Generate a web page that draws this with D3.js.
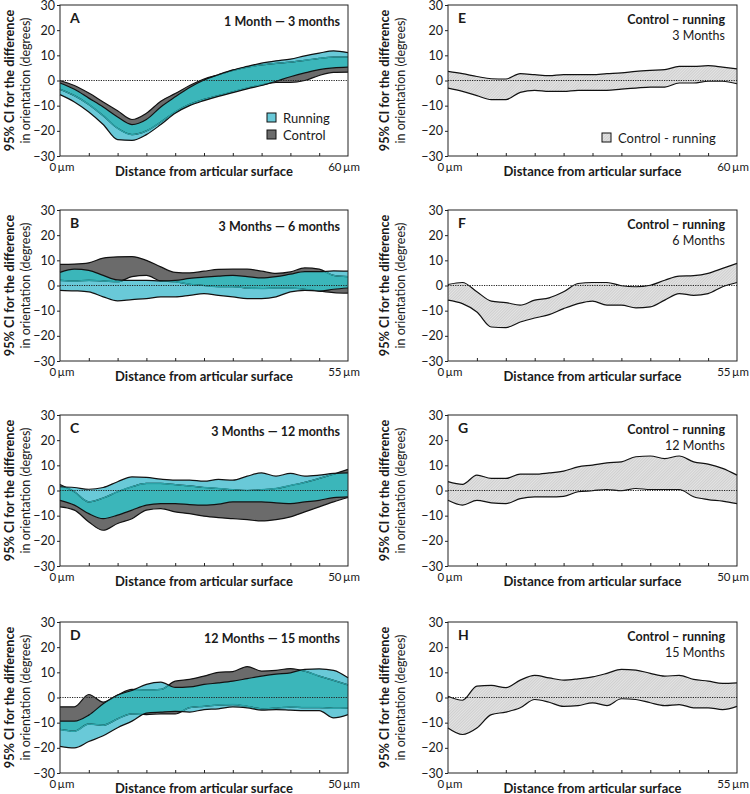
<!DOCTYPE html>
<html>
<head>
<meta charset="utf-8">
<script src="https://cdnjs.cloudflare.com/ajax/libs/d3/7.8.5/d3.min.js"></script>
<style>
  body { margin: 0; background: #fff; }
  svg { display: block; }
  text { font-family: Lato, "Open Sans", sans-serif; fill: #1a1a1a; }
</style>
</head>
<body>
<svg id="chart" width="750" height="794"></svg>
<script>
// ---- data ----
const yTicks = [-30, -20, -10, 0, 10, 20, 30];

// A: 1 month - 3 months
const xsA = [0, 3, 6, 9, 12, 15, 18, 21, 24, 27, 30, 33, 36, 39, 42, 45, 48, 51, 54, 57, 60];
const ctrlUpA = [0, -2, -5, -8.5, -12, -15.5, -13, -8.2, -5.2, -2, 0.6, 2.3, 4, 5.3, 6.2, 6.8, 7.3, 8, 8.8, 9.3, 9.3];
const ctrlLoA = [-3.5, -6, -9.5, -14, -19, -21.5, -20, -16.5, -12.5, -9.5, -7.5, -6, -4.5, -3, -1.8, -0.8, -0.8, 0, 2, 3.2, 3.3];
const runUpA = [-1, -3.5, -7, -10.5, -14.5, -17.5, -15.5, -10.5, -6.5, -2.8, 0.2, 2.3, 4.2, 5.6, 6.9, 7.8, 8.5, 9.8, 10.9, 11.8, 11.1];
const runLoA = [-5.6, -8.5, -12.5, -17.5, -23.5, -23.8, -21.5, -17.5, -13, -10, -8, -6.3, -4.8, -3.3, -2, -0.3, 1.5, 3, 4.3, 5, 5.3];

// B: 3 months - 6 months
const xsB = [0, 2.75, 5.5, 8.25, 11, 13.75, 16.5, 19.25, 22, 24.75, 27.5, 30.25, 33, 35.75, 38.5, 41.25, 44, 46.75, 49.5, 52.25, 55];
const ctrlUpB = [8.4, 8.5, 9, 10.9, 11.4, 11.5, 10, 7.4, 5.2, 5, 5.7, 6.4, 6.5, 6.5, 5.7, 4.8, 5.4, 7, 6.5, 4, 3.5];
const ctrlLoB = [2, 1.8, 2, 1.8, 1.5, 3.5, 4, 1.8, 1.5, 0.5, 0, -0.5, -0.5, -1, -1.2, -1, -1, -1.5, -2.2, -2.8, -3];
const runUpB = [5.2, 6.5, 6, 4, 2.2, 2, 2, 1.8, 2, 2.8, 3.3, 3.7, 4, 3.5, 3, 3.5, 4.5, 5.5, 5.5, 5.8, 5.7];
const runLoB = [-1.9, -2.1, -2.5, -4.5, -6.1, -5.6, -5.2, -4.5, -4.5, -3.9, -3.2, -3.9, -4.5, -5.2, -5.2, -4.5, -2.5, -1.9, -2.2, -1.5, -1];

// C: 3 months - 12 months
const xsC = [0, 2.5, 5, 7.5, 10, 12.5, 15, 17.5, 20, 22.5, 25, 27.5, 30, 32.5, 35, 37.5, 40, 42.5, 45, 47.5, 50];
const ctrlUpC = [2.4, -0.5, -4.5, -3, -0.5, 1.5, 2.8, 2.8, 2.3, 1.8, 1.2, 0.8, 0.3, 0, 0.3, 0.8, 2, 3.2, 4.8, 6.5, 8.4];
const ctrlLoC = [-6.5, -7.8, -12.5, -15.8, -13.1, -11.2, -7.8, -7.2, -8.5, -9.2, -10.2, -10.8, -11.2, -11.6, -12.1, -11.6, -10.5, -8.5, -6.5, -4.5, -2.8];
const runUpC = [1.5, 1.2, 0.5, 1.2, 3.5, 5.4, 5.2, 4.5, 4.1, 4.1, 3.7, 4.4, 4.1, 5.7, 7, 5.7, 6.8, 5.7, 6.1, 6.8, 7];
const runLoC = [-3.9, -5.8, -9.2, -11.2, -9.8, -7.8, -5.8, -5.2, -5.2, -5.6, -5.8, -5.4, -4.5, -4.5, -4.5, -4.9, -5.2, -4.5, -3.9, -2.8, -2.5];

// D: 12 months - 15 months
const xsD = [0, 2.5, 5, 7.5, 10, 12.5, 15, 17.5, 20, 22.5, 25, 27.5, 30, 32.5, 35, 37.5, 40, 42.5, 45, 47.5, 50];
const ctrlUpD = [-3.7, -3.7, 1.2, -1.8, 1, 3.2, 3, 3.2, 6.5, 7.2, 8.5, 10, 10.3, 12.3, 10.5, 10.8, 11.5, 10.5, 8.5, 6.8, 5];
const ctrlLoD = [-12.7, -13.4, -10.5, -11, -8.5, -6.5, -6.8, -6.5, -6.5, -4, -3.5, -3, -2.8, -3.5, -4.5, -4.2, -3.8, -4, -4, -4.3, -4.2];
const runUpD = [-9.4, -9.4, -7, -2.5, 1, 2.8, 5.2, 6.1, 4, 4.2, 5.2, 5.8, 6.5, 7.5, 8.5, 9.3, 9.8, 11.2, 11.4, 10.8, 7.8];
const runLoD = [-19.4, -20, -17.5, -15.2, -12, -9.4, -6.2, -5.8, -5.5, -5.8, -4.8, -4.5, -3.7, -4.1, -5, -4.8, -5, -5.2, -5.2, -8.1, -6.8];

// E-H: control - running
const xsE = [0, 3, 6, 9, 12, 15, 18, 21, 24, 27, 30, 33, 36, 39, 42, 45, 48, 51, 54, 57, 60];
const diffUpE = [3.6, 2.7, 1.6, 0.7, 0.6, 2.7, 2.3, 1.9, 2.3, 2.3, 2.3, 2.7, 3, 3.6, 4, 4.3, 5.6, 5.6, 5.9, 5.3, 4.6];
const diffLoE = [-3, -4.3, -6, -7.6, -7.6, -4.7, -3.9, -4.3, -4.3, -3.9, -3.9, -3.9, -3.4, -3, -2.6, -2.6, -1, -1, -0.3, -0.3, -1.3];

const xsF = xsB;
const diffUpF = [0.4, 1.2, -2.5, -6.2, -6.8, -7.8, -5.8, -4.9, -2.5, 0.8, 1.2, 1.2, -0.1, -0.5, 0.1, 2.1, 3.7, 3.9, 4.8, 6.8, 8.8];
const diffLoF = [-5.8, -7.2, -10.5, -16.5, -16.7, -14.5, -12.9, -11.6, -9.2, -7.2, -6.2, -7.8, -7.8, -8.9, -8.5, -5.8, -3.2, -3.9, -3.2, -0.5, 1.2];

const xsG = xsC;
const diffUpG = [3.5, 2.4, 6.1, 4.8, 4.8, 6.5, 6.5, 7, 7.7, 9.4, 10.1, 11, 11.4, 13.4, 13.7, 12.7, 13.7, 11.4, 10.5, 8.8, 6.1];
const diffLoG = [-3.9, -5.8, -3.9, -4.9, -5.2, -3.2, -2.5, -2.5, -2.3, -0.5, -0.1, 0.4, -0.1, 0.8, 0.4, 0.4, 0.4, -2.5, -3.6, -4.2, -5.2];

const xsH = xsB;
const diffUpH = [0.5, -1.1, 4.5, 4.8, 3.9, 6.9, 8.8, 7.8, 6.9, 7.4, 8.2, 9.6, 11.2, 10.9, 9.6, 8.5, 8.8, 7.2, 6.5, 5.6, 5.8];
const diffLoH = [-12.1, -14.7, -12.1, -6.8, -5.8, -4.1, -0.8, -1.9, -3.5, -3.2, -2.1, -3.2, -0.5, -0.8, -2.1, -3.2, -2.8, -4.1, -4.1, -4.8, -3.5];

const leftLetters = ["A", "B", "C", "D"];
const leftTitles = ["1 Month \u2014 3 months", "3 Months \u2014 6 months", "3 Months \u2014 12 months", "12 Months \u2014 15 months"];
const leftXMax = [60, 55, 50, 50];
const rightLetters = ["E", "F", "G", "H"];
const rightMonths = ["3 Months", "6 Months", "12 Months", "15 Months"];
const rightXMax = [60, 55, 50, 55];

// ---- layout ----
const rowTops = [5, 210, 415, 622];
const plotH = 151;
const cols = [{ x0: 60, x1: 348, lab: 0 }, { x0: 448, x1: 737, lab: 375 }];

const colRun = "#69c9d8";
const colCtrl = "#6b6b6b";
const colBoth = "#3bb6ba";
const colThin = "#2aa2a7";
const curve = d3.curveMonotoneX;

const svg = d3.select("#chart");
const defs = svg.append("defs");

const hatch = defs.append("pattern")
  .attr("id", "hatch")
  .attr("patternUnits", "userSpaceOnUse")
  .attr("width", 2)
  .attr("height", 2)
  .attr("patternTransform", "rotate(45)");
hatch.append("rect").attr("width", 2).attr("height", 2).attr("fill", "#e4e4e4");
hatch.append("line").attr("x1", 0).attr("y1", 0).attr("x2", 0).attr("y2", 2)
  .attr("stroke", "#b0b0b0").attr("stroke-width", 0.8);

function drawFrame(col, row, xMax, letter) {
  const c = cols[col];
  const top = rowTops[row];
  const w = c.x1 - c.x0;
  const x = d3.scaleLinear().domain([0, xMax]).range([0, w]);
  const y = d3.scaleLinear().domain([-30, 30]).range([plotH, 0]);
  const g = svg.append("g").attr("transform", `translate(${c.x0},${top})`);

  // y axis ticks + labels
  const ya = g.append("g")
    .call(d3.axisLeft(y).tickValues(yTicks).tickSize(3).tickPadding(2)
      .tickFormat(d => d < 0 ? "\u2212" + Math.abs(d) : d));
  ya.select(".domain").remove();
  ya.selectAll("text").style("font-size", "12.5px").style("font-family", "Lato").attr("fill", "#1a1a1a");
  ya.selectAll("line").attr("stroke", "#222");

  // inner ticks on bottom edge
  const xa = g.append("g").attr("transform", `translate(0,${plotH})`)
    .call(d3.axisBottom(x).tickValues(d3.range(1, 10).map(i => xMax * i / 10)).tickSize(-3).tickFormat(""));
  xa.select(".domain").remove();
  xa.selectAll("line").attr("stroke", "#222");

  // axis texts
  g.append("text")
    .attr("transform", `translate(${c.lab + 13.5 - c.x0},${plotH / 2}) rotate(-90)`)
    .attr("text-anchor", "middle")
    .style("font-size", "12.7px").style("font-weight", "bold")
    .text("95% CI for the difference");
  g.append("text")
    .attr("transform", `translate(${c.lab + 29.5 - c.x0},${plotH / 2}) rotate(-90)`)
    .attr("text-anchor", "middle")
    .style("font-size", "12.5px")
    .text("in orientation (degrees)");
  g.append("text")
    .attr("x", w / 2).attr("y", plotH + 20)
    .attr("text-anchor", "middle")
    .style("font-size", "13px").style("font-weight", "bold")
    .text("Distance from articular surface");
  g.append("text")
    .attr("x", 2).attr("y", plotH + 15)
    .attr("text-anchor", "middle")
    .style("font-size", "11.5px")
    .text("0\u2009\u00b5m");
  g.append("text")
    .attr("x", w - 4).attr("y", plotH + 15)
    .attr("text-anchor", "middle")
    .style("font-size", "11.5px")
    .text(xMax + "\u2009\u00b5m");

  g.append("text")
    .attr("x", 10).attr("y", 18)
    .style("font-size", "14px").style("font-weight", "bold")
    .text(letter);

  return { g, x, y, w };
}

function finishFrame(p) {
  p.g.append("line")
    .attr("x1", 0).attr("x2", p.w)
    .attr("y1", p.y(0)).attr("y2", p.y(0))
    .attr("stroke", "#222").attr("stroke-width", 1)
    .attr("stroke-dasharray", "1.2,1.2");
  p.g.append("rect")
    .attr("width", p.w).attr("height", plotH)
    .attr("fill", "none").attr("stroke", "#222").attr("stroke-width", 1);
}

// left column: running vs control bands
const leftSets = [
  [xsA, ctrlUpA, ctrlLoA, runUpA, runLoA],
  [xsB, ctrlUpB, ctrlLoB, runUpB, runLoB],
  [xsC, ctrlUpC, ctrlLoC, runUpC, runLoC],
  [xsD, ctrlUpD, ctrlLoD, runUpD, runLoD]
];

leftSets.forEach(([xs, cu, cl, ru, rl], i) => {
  const p = drawFrame(0, i, leftXMax[i], leftLetters[i]);
  const idx = d3.range(xs.length);
  const area = (up, lo) => d3.area().curve(curve).x(k => p.x(xs[k])).y0(k => p.y(lo[k])).y1(k => p.y(up[k]));
  const line = vals => d3.line().curve(curve).x(k => p.x(xs[k])).y(k => p.y(vals[k]));
  const clipId = "runclip" + i;

  defs.append("clipPath").attr("id", clipId)
    .append("path").attr("d", area(ru, rl)(idx));

  const plot = p.g.append("g");
  plot.append("path").attr("d", area(cu, cl)(idx)).attr("fill", colCtrl);
  plot.append("path").attr("d", area(ru, rl)(idx)).attr("fill", colRun);
  plot.append("path").attr("d", area(cu, cl)(idx)).attr("fill", colBoth).attr("clip-path", `url(#${clipId})`);

  [cu, cl].forEach(v => {
    plot.append("path").attr("d", line(v)(idx)).attr("fill", "none").attr("stroke", "#111").attr("stroke-width", 1.2);
    plot.append("path").attr("d", line(v)(idx)).attr("fill", "none").attr("stroke", colThin)
      .attr("stroke-width", 1.4).attr("clip-path", `url(#${clipId})`);
  });
  [ru, rl].forEach(v => {
    plot.append("path").attr("d", line(v)(idx)).attr("fill", "none").attr("stroke", "#111").attr("stroke-width", 1.2);
  });

  finishFrame(p);

  p.g.append("text")
    .attr("x", p.w - 8).attr("y", 21)
    .attr("text-anchor", "end")
    .style("font-size", "12.5px").style("font-weight", "bold")
    .text(leftTitles[i]);

  if (i === 0) {
    const leg = p.g.append("g").attr("transform", "translate(207,108)");
    [["Running", colRun], ["Control", colCtrl]].forEach(([name, col], k) => {
      leg.append("rect").attr("x", 0).attr("y", k * 17).attr("width", 9).attr("height", 9)
        .attr("fill", col).attr("stroke", "#111").attr("stroke-width", 1);
      leg.append("text").attr("x", 16).attr("y", k * 17 + 9.5)
        .style("font-size", "13px").text(name);
    });
  }
});

// right column: control - running difference
const rightSets = [
  [xsE, diffUpE, diffLoE],
  [xsF, diffUpF, diffLoF],
  [xsG, diffUpG, diffLoG],
  [xsH, diffUpH, diffLoH]
];

rightSets.forEach(([xs, up, lo], i) => {
  const p = drawFrame(1, i, rightXMax[i], rightLetters[i]);
  const idx = d3.range(xs.length);
  p.g.append("path")
    .attr("d", d3.area().curve(curve).x(k => p.x(xs[k])).y0(k => p.y(lo[k])).y1(k => p.y(up[k]))(idx))
    .attr("fill", "url(#hatch)");
  [up, lo].forEach(v => {
    p.g.append("path")
      .attr("d", d3.line().curve(curve).x(k => p.x(xs[k])).y(k => p.y(v[k]))(idx))
      .attr("fill", "none").attr("stroke", "#111").attr("stroke-width", 1.2);
  });

  finishFrame(p);

  p.g.append("text")
    .attr("x", p.w - 12).attr("y", 19)
    .attr("text-anchor", "end")
    .style("font-size", "12.5px").style("font-weight", "bold")
    .text("Control \u2013 running");
  p.g.append("text")
    .attr("x", p.w - 12).attr("y", 35)
    .attr("text-anchor", "end")
    .style("font-size", "12.5px")
    .text(rightMonths[i]);

  if (i === 0) {
    const leg = p.g.append("g").attr("transform", "translate(154,128)");
    leg.append("rect").attr("width", 9).attr("height", 9)
      .attr("fill", "url(#hatch)").attr("stroke", "#111").attr("stroke-width", 1);
    leg.append("text").attr("x", 16).attr("y", 9.5)
      .style("font-size", "13px").text("Control - running");
  }
});
</script>
</body>
</html>
